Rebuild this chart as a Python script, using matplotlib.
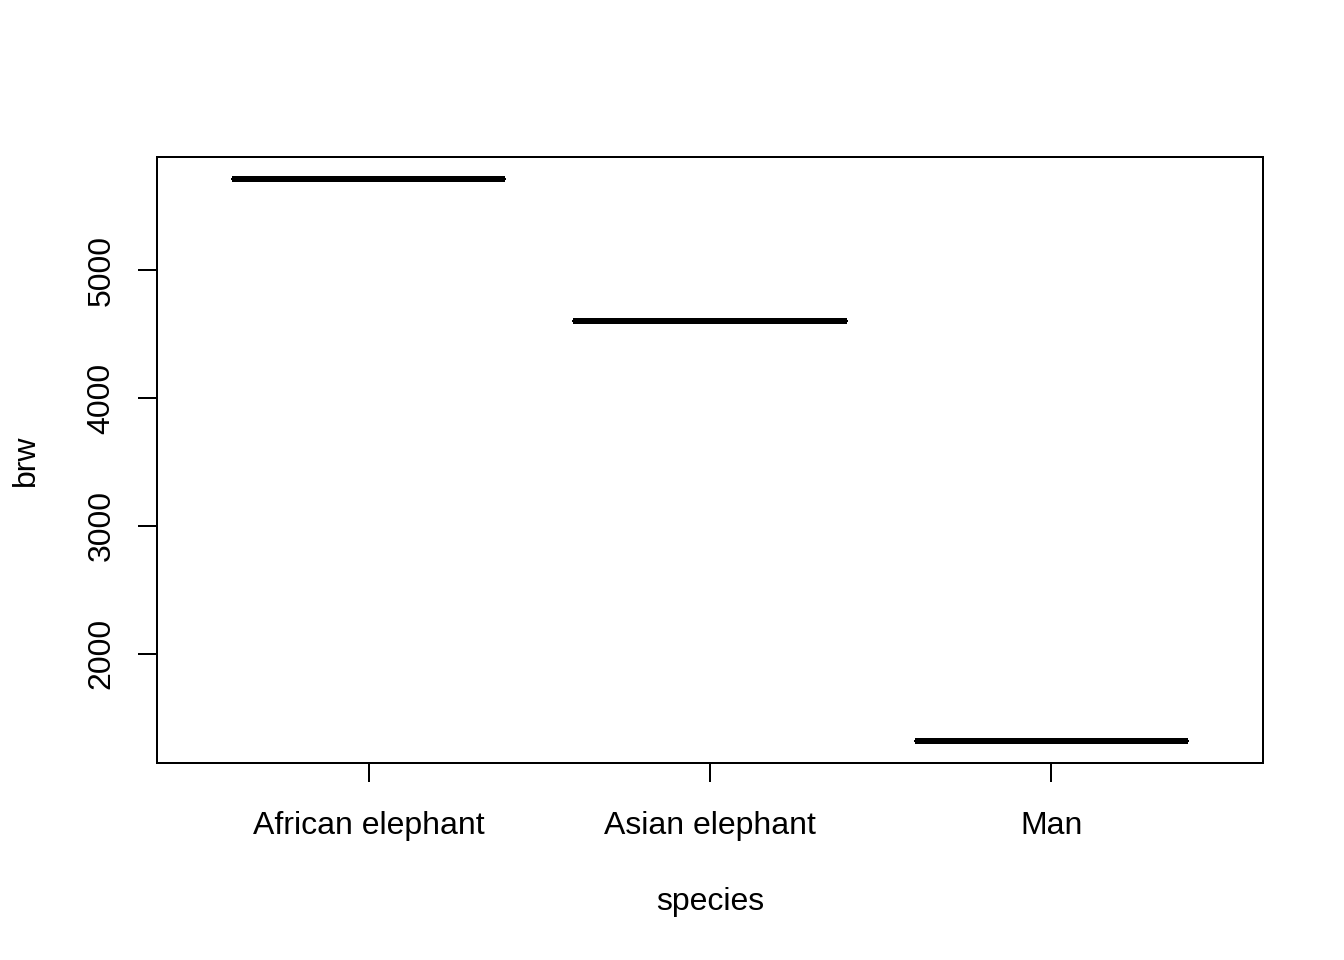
import matplotlib.pyplot as plt

species = ['African elephant', 'Asian elephant', 'Man']
brw = [5712, 4603, 1320]
yticks = [2000, 3000, 4000, 5000]

plt.rcParams['font.family'] = ['Liberation Sans', 'DejaVu Sans']
plt.rcParams['font.size'] = 12

fig = plt.figure(figsize=(7, 5), dpi=192)
ax = fig.add_axes([157/1344, 1 - 763/960, (1263-157)/1344, (763-157)/960])

ax.boxplot([[v] for v in brw], positions=[1, 2, 3], widths=0.8,
           medianprops=dict(color='black', linewidth=2.25, solid_capstyle='butt'),
           boxprops=dict(color='black', linewidth=0.75),
           whiskerprops=dict(color='black', linewidth=0.75, linestyle='--'),
           capprops=dict(color='black', linewidth=0.75),
           showfliers=False)

lo, hi = min(brw), max(brw)
ext = 0.04 * (hi - lo)
ax.set_ylim(lo - ext, hi + ext)
ax.set_xlim(0.38, 3.62)
ax.set_xticks([1, 2, 3])
ax.set_xticklabels(species)
ax.set_yticks(yticks)
ax.set_yticklabels([str(t) for t in yticks], rotation=90, va='center')

for s in ax.spines.values():
    s.set_linewidth(0.75)
ax.tick_params(length=7.2, width=0.75, labelsize=12)
ax.tick_params(axis='x', pad=10.7)
ax.tick_params(axis='y', pad=8)

ax.set_xlabel('species', labelpad=17.4)
ax.set_ylabel('brw', labelpad=17)

fig.savefig('out.png', dpi=192)
